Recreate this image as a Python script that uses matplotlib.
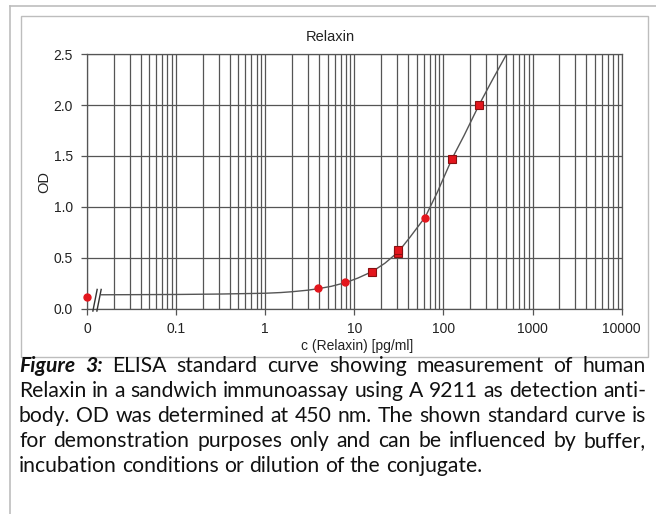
import matplotlib
matplotlib.use('Agg')
import matplotlib.pyplot as plt
from matplotlib.lines import Line2D
from matplotlib.patches import Rectangle
from matplotlib.ticker import FixedLocator, FixedFormatter, LogLocator, NullFormatter

# standards (the blank "0" sits on the left edge, at 0.01)
conc_sq = [15.6, 31.25, 31.25, 125, 250]
od_sq = [0.36, 0.545, 0.575, 1.475, 2.0]
conc_dot = [0.01, 3.9, 7.8, 62.5]
od_dot = [0.115, 0.198, 0.257, 0.89]

# fitted standard curve
curve_x = [0.0145, 0.03, 0.1, 0.3, 1, 1.5, 2, 3, 4, 5.5, 8, 11, 16, 22, 31,
           42, 62.5, 85, 125, 170, 250, 350, 510]
curve_y = [0.135, 0.136, 0.138, 0.142, 0.150, 0.157, 0.165, 0.180, 0.196,
           0.218, 0.255, 0.300, 0.365, 0.445, 0.555, 0.70, 0.90, 1.14, 1.475,
           1.70, 2.0, 2.24, 2.5]

x_ticks = [0.01, 0.1, 1, 10, 100, 1000, 10000]
x_labels = ['0', '0.1', '1', '10', '100', '1000', '10000']
y_ticks = [0, 0.5, 1.0, 1.5, 2.0, 2.5]
y_labels = ['0.0', '0.5', '1.0', '1.5', '2.0', '2.5']

caption = [
    [('Figure', 'bi'), ('3:', 'bi'), ('ELISA', ''), ('standard', ''), ('curve', ''),
     ('showing', ''), ('measurement', ''), ('of', ''), ('human', '')],
    'Relaxin in a sandwich immunoassay using A 9211 as detection anti-',
    'body. OD was determined at 450 nm. The shown standard curve is',
    'for demonstration purposes only and can be influenced by buffer,',
    'incubation conditions or dilution of the conjugate.',
]

W, H = 656, 514
def fx(px):
    return px / W
def fy(py):
    return 1 - py / H

fig = plt.figure(figsize=(W / 100, H / 100), dpi=100)
grid_c = '#555555'
tfont = 'Liberation Sans'

# frames around the figure
fig.add_artist(Line2D([fx(10), fx(10)], [fy(6), fy(514)], transform=fig.transFigure,
                      color='#bdbdbd', lw=1.2))
fig.add_artist(Line2D([fx(10), fx(656)], [fy(6), fy(6)], transform=fig.transFigure,
                      color='#bdbdbd', lw=1.2))
fig.add_artist(Rectangle((fx(21), fy(357)), (648 - 21) / W, (357 - 16) / H,
                         transform=fig.transFigure, fill=False, ec='#bdbdbd', lw=1.0))

ax = fig.add_axes([fx(87), fy(308.5), (621.7 - 87) / W, (308.5 - 54.3) / H])
ax.set_xscale('log')
ax.set_xlim(0.01, 10000)
ax.set_ylim(0, 2.5)
ax.xaxis.set_major_locator(FixedLocator(x_ticks))
ax.xaxis.set_major_formatter(FixedFormatter(x_labels))
ax.xaxis.set_minor_locator(LogLocator(base=10, subs=range(2, 10), numticks=50))
ax.xaxis.set_minor_formatter(NullFormatter())
ax.yaxis.set_major_locator(FixedLocator(y_ticks))
ax.yaxis.set_major_formatter(FixedFormatter(y_labels))
ax.set_axisbelow(True)
ax.grid(which='both', axis='x', color=grid_c, lw=0.9)
ax.grid(which='major', axis='y', color=grid_c, lw=0.9)
ax.tick_params(which='major', length=4, width=0.9, color=grid_c, labelsize=10,
               labelcolor='#222222')
ax.tick_params(axis='y', pad=6)
ax.tick_params(axis='x', pad=6)
ax.tick_params(which='minor', length=0)
for lab in ax.get_xticklabels() + ax.get_yticklabels():
    lab.set_fontfamily(tfont)
for s in ax.spines.values():
    s.set_color(grid_c)
    s.set_linewidth(0.9)

# axis break marks next to "0"
for bx in [0.015, 0.0225]:
    ax.plot([bx - 0.004, bx + 0.004], [-0.01, 0.075], transform=ax.transAxes,
            color='#333333', lw=1.0, clip_on=False, zorder=4)

ax.plot(curve_x, curve_y, color='#555555', lw=1.0, zorder=3)
ax.plot(conc_dot, od_dot, 'o', color='#e3161d', ms=5, mec='#e3161d',
        clip_on=False, zorder=5)
ax.plot(conc_sq, od_sq, 's', color='#e3161d', ms=5.5, mec='#8a1010', mew=0.8,
        clip_on=False, zorder=5)

fig.text(fx(330), fy(36.7), 'Relaxin', ha='center', va='center', fontsize=10.5,
         family=tfont, color='#222222')
fig.text(fx(357), fy(346), 'c (Relaxin) [pg/ml]', ha='center', va='center',
         fontsize=10, family=tfont, color='#222222')
fig.text(fx(44), fy(182), 'OD', ha='center', va='center', rotation=90,
         fontsize=10.5, family=tfont, color='#222222')

# caption, justified like the print layout
cfont = 'Lato'
renderer = fig.canvas.get_renderer()

def style(st, fs):
    d = dict(family=cfont, fontsize=fs, color='#111111', va='baseline', ha='left')
    if st == 'bi':
        d.update(weight='bold', style='italic')
    return d

def width(txt, st, fs):
    t = fig.text(0, 0, txt, **style(st, fs))
    w = t.get_window_extent(renderer).width
    t.remove()
    return w

lines = []
for ln in caption:
    if isinstance(ln, str):
        ln = [(w, '') for w in ln.split()]
    lines.append(ln)

left, right = 19, 646

def natural(ln, fs):
    sp = width('a a', '', fs) - width('aa', '', fs)
    return sum(width(w, st, fs) for w, st in ln) + sp * (len(ln) - 1)

# size the font so the widest justified line nearly fills the column
fs = 13.0
widest = max(natural(ln, fs) for ln in lines[:-1])
fs = fs * (right - left - 6) / widest
space = width('a a', '', fs) - width('aa', '', fs)

base = 372
for i, ln in enumerate(lines):
    ws = [width(w, st, fs) for w, st in ln]
    if i < len(lines) - 1:
        gap = (right - left - sum(ws)) / (len(ln) - 1)
    else:
        gap = space
    x = left
    for (w, st), wd in zip(ln, ws):
        fig.text(fx(x), fy(base + i * 25.1), w, **style(st, fs))
        x += wd + gap

fig.savefig('out.png', dpi=100)
